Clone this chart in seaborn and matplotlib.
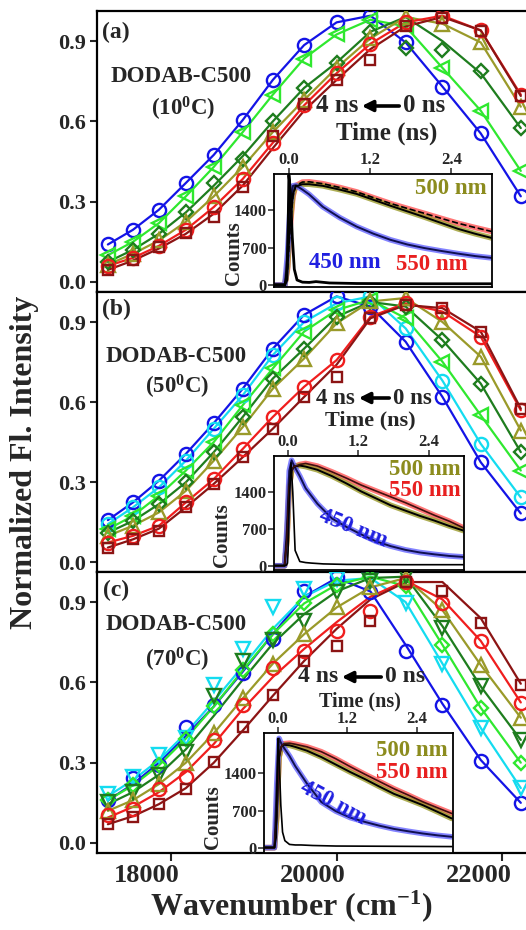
import matplotlib
matplotlib.use('Agg')
import matplotlib.pyplot as plt
import seaborn as sns
from matplotlib.transforms import ScaledTranslation

sns.set_theme(style='ticks')
plt.rcParams['font.family'] = ['Liberation Serif', 'DejaVu Serif']
plt.rcParams['font.weight'] = 'bold'
plt.rcParams['axes.labelweight'] = 'bold'
plt.rcParams['mathtext.fontset'] = 'custom'
plt.rcParams['mathtext.rm'] = 'Liberation Serif:bold'
plt.rcParams['mathtext.bf'] = 'Liberation Serif:bold'
plt.rcParams['mathtext.it'] = 'Liberation Serif:bold'

# spectra: 450..580 nm in 10 nm steps, as wavenumbers
wavenumber = [17241, 17544, 17857, 18182, 18519, 18868, 19231, 19608,
              20000, 20408, 20833, 21277, 21739, 22222]

# panel (a) 10 C
a_blue = [0.14, 0.195, 0.27, 0.37, 0.475, 0.605, 0.755, 0.885, 0.97, 0.995, 0.895, 0.73, 0.555, 0.32]
a_green = [0.10, 0.15, 0.22, 0.32, 0.43, 0.56, 0.70, 0.835, 0.925, 0.98, 0.955, 0.80, 0.64, 0.415]
a_dkgreen = [0.075, 0.12, 0.18, 0.26, 0.36, 0.47, 0.60, 0.725, 0.82, 0.935, 0.99, 0.90, 0.78, 0.575]
a_dkgreen_pts = [0.075, 0.12, 0.18, 0.26, 0.37, 0.46, 0.60, 0.725, 0.82, 0.935, 0.875, 0.865, 0.79, 0.575]
a_olive = [0.065, 0.105, 0.155, 0.225, 0.32, 0.43, 0.56, 0.68, 0.80, 0.91, 0.99, 0.965, 0.895, 0.655]
a_red = [0.06, 0.09, 0.135, 0.195, 0.28, 0.385, 0.52, 0.66, 0.78, 0.89, 0.97, 0.995, 0.94, 0.70]
a_dkred = [0.045, 0.08, 0.125, 0.18, 0.255, 0.36, 0.50, 0.64, 0.755, 0.87, 0.955, 0.99, 0.94, 0.695]
a_dkred_pts = [0.044, 0.081, 0.129, 0.184, 0.244, 0.356, 0.545, 0.665, 0.756, 0.831, 0.955, 0.9875, 0.9375, 0.694]

# panel (b) 50 C
b_blue = [0.157, 0.2235, 0.305, 0.4055, 0.521, 0.65, 0.80, 0.927, 0.996, 0.958, 0.826, 0.619, 0.374, 0.182]
b_cyan = [0.142, 0.205, 0.28, 0.38, 0.50, 0.625, 0.776, 0.90, 0.97, 0.996, 0.876, 0.68, 0.443, 0.242]
b_green = [0.123, 0.173, 0.249, 0.343, 0.45, 0.588, 0.726, 0.864, 0.945, 0.983, 0.914, 0.751, 0.55, 0.343]
b_dkgreen = [0.11, 0.154, 0.217, 0.299, 0.412, 0.544, 0.688, 0.80, 0.92, 0.975, 0.958, 0.832, 0.669, 0.412]
b_olive = [0.098, 0.136, 0.186, 0.267, 0.38, 0.506, 0.65, 0.763, 0.895, 0.977, 0.99, 0.90, 0.77, 0.493]
b_red = [0.073, 0.098, 0.136, 0.2235, 0.311, 0.424, 0.544, 0.657, 0.757, 0.92, 0.97, 0.939, 0.845, 0.569]
b_dkred = [0.054, 0.085, 0.125, 0.205, 0.293, 0.393, 0.50, 0.619, 0.74, 0.914, 0.964, 0.952, 0.864, 0.575]
b_dkred_pts = [0.054, 0.085, 0.117, 0.205, 0.293, 0.393, 0.50, 0.619, 0.694, 0.914, 0.964, 0.952, 0.864, 0.575]

# panel (c) 70 C
c_blue = [0.159, 0.22, 0.30, 0.40, 0.51, 0.64, 0.78, 0.92, 0.99, 0.94, 0.74, 0.52, 0.31, 0.15]
c_blue_pts = [0.159, 0.241, 0.293, 0.435, 0.514, 0.635, 0.761, 0.942, 0.992, 0.936, 0.717, 0.516, 0.308, 0.148]
c_cyan = [0.175, 0.235, 0.31, 0.41, 0.53, 0.66, 0.80, 0.92, 0.98, 0.99, 0.90, 0.67, 0.43, 0.205]
c_cyan_pts = [0.184, 0.247, 0.328, 0.391, 0.591, 0.723, 0.88, 0.95, 0.985, 0.98, 0.898, 0.667, 0.429, 0.204]
c_green = [0.16, 0.215, 0.29, 0.39, 0.51, 0.645, 0.78, 0.895, 0.965, 0.995, 0.96, 0.74, 0.505, 0.30]
c_dkgreen = [0.145, 0.19, 0.255, 0.35, 0.475, 0.61, 0.745, 0.855, 0.94, 0.99, 0.995, 0.81, 0.585, 0.385]
c_dkgreen_pts = [0.153, 0.19, 0.253, 0.341, 0.548, 0.68, 0.76, 0.83, 0.936, 0.98, 0.999, 0.805, 0.585, 0.386]
c_olive = [0.12, 0.16, 0.22, 0.30, 0.41, 0.54, 0.67, 0.78, 0.88, 0.955, 0.99, 0.87, 0.665, 0.468]
c_red = [0.095, 0.135, 0.19, 0.265, 0.37, 0.50, 0.62, 0.725, 0.825, 0.92, 0.98, 0.91, 0.755, 0.525]
c_red_pts = [0.103, 0.128, 0.203, 0.247, 0.385, 0.516, 0.654, 0.717, 0.792, 0.867, 0.974, 0.898, 0.754, 0.524]
c_dkred = [0.07, 0.10, 0.145, 0.205, 0.30, 0.42, 0.55, 0.68, 0.80, 0.91, 0.975, 0.975, 0.84, 0.595]
c_dkred_pts = [0.071, 0.0965, 0.147, 0.203, 0.303, 0.435, 0.554, 0.679, 0.736, 0.83, 0.975, 0.942, 0.823, 0.591]

# decay traces (insets)
t_decay = [-0.22, -0.06, -0.02, 0.02, 0.06, 0.1, 0.2, 0.3, 0.5, 0.75, 1.0,
           1.25, 1.5, 1.75, 2.0, 2.25, 2.5, 2.75, 3.0]
a_450 = [5, 5, 600, 1500, 1850, 1860, 1780, 1690, 1461, 1260, 1093, 960, 847, 760, 694, 640, 590, 545, 510]
a_500 = [5, 5, 350, 1200, 1700, 1840, 1880, 1880, 1850, 1780, 1700, 1590, 1480, 1375, 1270, 1160, 1050, 960, 880]
a_550 = [5, 5, 300, 1100, 1650, 1850, 1920, 1925, 1890, 1820, 1738, 1630, 1523, 1430, 1339, 1245, 1154, 1075, 1000]
b_450 = [10, 10, 700, 1800, 2000, 1900, 1700, 1470, 1180, 900, 740, 600, 470, 380, 310, 260, 225, 195, 176]
b_500 = [10, 10, 500, 1500, 1800, 1880, 1900, 1880, 1820, 1700, 1560, 1410, 1280, 1150, 1050, 950, 860, 760, 670]
b_550 = [10, 10, 500, 1500, 1800, 1880, 1920, 1940, 1890, 1780, 1660, 1530, 1420, 1310, 1200, 1080, 960, 850, 720]
c_450 = [10, 10, 1200, 2050, 1950, 1880, 1720, 1530, 1207, 860, 690, 570, 490, 420, 360, 315, 274, 240, 212]
c_500 = [10, 10, 600, 1700, 1900, 1930, 1920, 1890, 1820, 1700, 1560, 1420, 1290, 1150, 1015, 910, 803, 680, 554]
c_550 = [10, 10, 600, 1700, 1900, 1950, 1960, 1940, 1892, 1800, 1668, 1520, 1380, 1245, 1110, 990, 865, 755, 647]

t_irf = [-0.22, -0.06, -0.03, -0.01, 0.0, 0.02, 0.05, 0.08, 0.12, 0.2, 0.3, 0.4, 0.6, 1.0, 2.0, 3.0]
a_irf = [15, 15, 100, 1200, 2050, 1800, 900, 300, 100, 60, 55, 70, 45, 35, 30, 30]
b_irf = [15, 15, 20, 60, 300, 1200, 1950, 1400, 300, 90, 70, 60, 45, 35, 30, 30]
c_irf = [15, 15, 200, 1500, 2050, 1700, 800, 300, 140, 70, 60, 60, 50, 40, 35, 30]

BLUE, CYAN, GREEN = '#1414e6', '#14dcf0', '#2fe82f'
DKGREEN, OLIVE, RED, DKRED = '#1e7d1e', '#9a9a2a', '#f01e1e', '#8c1414'

panels = [
    [(a_blue, None, BLUE, 'o'), (a_green, None, GREEN, '<'),
     (a_dkgreen, a_dkgreen_pts, DKGREEN, 'D'), (a_olive, None, OLIVE, '^'),
     (a_red, None, RED, 'o'), (a_dkred, a_dkred_pts, DKRED, 's')],
    [(b_blue, None, BLUE, 'o'), (b_cyan, None, CYAN, 'o'), (b_green, None, GREEN, '<'),
     (b_dkgreen, None, DKGREEN, 'D'), (b_olive, None, OLIVE, '^'),
     (b_red, None, RED, 'o'), (b_dkred, b_dkred_pts, DKRED, 's')],
    [(c_blue, c_blue_pts, BLUE, 'o'), (c_cyan, c_cyan_pts, CYAN, 'v'), (c_green, None, GREEN, 'D'),
     (c_dkgreen, c_dkgreen_pts, DKGREEN, 'v'), (c_olive, None, OLIVE, '^'),
     (c_red, c_red_pts, RED, 'o'), (c_dkred, c_dkred_pts, DKRED, 's')],
]
decays = [(a_450, a_500, a_550, a_irf), (b_450, b_500, b_550, b_irf), (c_450, c_500, c_550, c_irf)]

W, H = 526, 930
fig = plt.figure(figsize=(W / 100, H / 100), dpi=100)


def fx(x):
    return x / W


def fy(y):
    return 1 - y / H


main_rows = [(11, 292), (292, 572), (572, 853)]
inset_boxes = [(274, 492, 174, 287, (-0.22, 3.0), (-30, 2070)),
               (274, 464, 456, 570, (-0.24, 3.0), (-70, 2080)),
               (264, 453, 733, 853, (-0.24, 3.02), (-90, 2150))]
temps = ['10', '50', '70']
letters = ['(a)', '(b)', '(c)']

# text layout (pixel positions)
lab_pos = [((102, 32), (181, 77), (183, 109)),
           ((102, 309), (176, 357), (177, 387)),
           ((103, 590), (176, 625), (177, 660))]
arrow_pos = [(358, 403, 106, 18), (355, 393, 398, 16.5), (338, 385, 677, 17)]
time_pos = [(387, 133, 18), (370, 420, 16), (360, 701, 14.5)]
nm_pos = [((451, 188, 0), (345, 263, 0), (432, 265, 0)),
          ((425, 469, 0), (353, 528, -22), (425, 490, 0)),
          ((412, 751, 0), (333, 803, -28), (412, 772, 0))]
counts_pos = [(234, 253), (222, 535), (213, 817)]

axes = []
for i, (top, bot) in enumerate(main_rows):
    ax = fig.add_axes([fx(97), fy(bot), fx(530 - 97), (bot - top) / H])
    axes.append(ax)
    for fit, pts, col, mk in panels[i]:
        sns.lineplot(x=wavenumber, y=fit, ax=ax, color=col, lw=1.6, zorder=2)
        ms = 7.5 if mk in ('s', 'D') else 9.5
        ax.plot(wavenumber, pts if pts is not None else fit, ls='none', marker=mk,
                ms=ms, mfc='none', mec=col, mew=1.7, zorder=3)
    ax.set_xlim(17110, 22333)
    ax.set_ylim(-0.0375, 1.0125)
    ax.set_yticks([0.0, 0.3, 0.6, 0.9])
    ax.set_yticklabels(['0.0', '0.3', '0.6', '0.9'])
    ax.set_xticks([18000, 20000, 22000])
    ax.tick_params(axis='y', direction='out', length=5, width=1.5, labelsize=16, pad=3)
    ax.tick_params(axis='x', direction='out', length=6, width=1.5, labelsize=19, pad=2)
    if i < 2:
        ax.tick_params(axis='x', bottom=False, labelbottom=False)
    for sp in ax.spines.values():
        sp.set_linewidth(1.6)
        sp.set_color('black')
    ax.set_xlabel('')
    ax.set_ylabel('')

    (lx, ly), (dx, dy), (tx, ty) = lab_pos[i]
    fig.text(fx(lx), fy(ly), letters[i], fontsize=17, ha='left', va='center')
    fig.text(fx(dx), fy(dy), 'DODAB-C500', fontsize=16.5, ha='center', va='center')
    fig.text(fx(tx), fy(ty), '(' + temps[i] + r'$^{\mathbf{0}}$C)', fontsize=16.5,
             ha='center', va='center')

    x4, x0, ya, fs_arrow = arrow_pos[i]
    fig.text(fx(x4), fy(ya), '4 ns', fontsize=fs_arrow, ha='right', va='center', zorder=6)
    fig.text(fx(x0), fy(ya), '0 ns', fontsize=fs_arrow, ha='left', va='center', zorder=6)
    fig.add_artist(matplotlib.patches.FancyArrowPatch(
        (fx(x0 - 1), fy(ya)), (fx(x4 + 1), fy(ya)), transform=fig.transFigure,
        arrowstyle='-|>', mutation_scale=16, lw=2.6, color='black', zorder=6))
    tx_, ty_, tfs = time_pos[i]
    fig.text(fx(tx_), fy(ty_), 'Time (ns)', fontsize=tfs, ha='center', va='center', zorder=6)

    # inset with decays
    l, r, t, b, xl, yl = inset_boxes[i]
    axi = fig.add_axes([fx(l), fy(b), (r - l) / W, (b - t) / H], zorder=5)
    d450, d500, d550, dirf = decays[i]
    sns.lineplot(x=t_decay, y=d550, ax=axi, color='#ff4a4a', lw=4, alpha=0.75)
    sns.lineplot(x=t_decay, y=d500, ax=axi, color='#9a9a2a', lw=4, alpha=0.8)
    sns.lineplot(x=t_decay, y=d450, ax=axi, color='#5a5aff', lw=4, alpha=0.75)
    sns.lineplot(x=t_decay, y=d450, ax=axi, color='#101050', lw=1.4)
    sns.lineplot(x=t_decay, y=d500, ax=axi, color='black', lw=1.4)
    if i == 0:
        sns.lineplot(x=t_decay, y=d550, ax=axi, color='black', lw=1.2, ls='--')
    else:
        sns.lineplot(x=t_decay, y=d550, ax=axi, color='#401010', lw=1.2)
    sns.lineplot(x=t_irf, y=dirf, ax=axi, color='black', lw=2.0 if i == 0 else 1.2)
    axi.set_xlim(*xl)
    axi.set_ylim(*yl)
    axi.set_xticks([0.0, 1.2, 2.4])
    axi.set_xticklabels(['0.0', '1.2', '2.4'])
    axi.set_yticks([0, 700, 1400])
    axi.set_yticklabels(['0', '700', '1400'])
    axi.tick_params(axis='x', top=True, bottom=False, labeltop=True, labelbottom=False,
                    direction='out', length=4, width=1.1, labelsize=12, pad=0.5)
    axi.tick_params(axis='y', direction='out', length=4, width=1.1, labelsize=12, pad=1)
    for sp in axi.spines.values():
        sp.set_linewidth(1.3)
        sp.set_color('black')
    axi.set_xlabel('')
    axi.set_ylabel('')
    cx, cy = counts_pos[i]
    fig.text(fx(cx), fy(cy), 'Counts', rotation=90, fontsize=15, ha='center', va='center', zorder=7)
    (p5, p4, p55) = nm_pos[i]
    fig.text(fx(p5[0]), fy(p5[1]), '500 nm', color='#8c8c1e', fontsize=16.5,
             ha='center', va='center', rotation=p5[2], zorder=7)
    fig.text(fx(p4[0]), fy(p4[1]), '450 nm', color='#2020e0', fontsize=16.5,
             ha='center', va='center', rotation=p4[2], zorder=7)
    fig.text(fx(p55[0]), fy(p55[1]), '550 nm', color='#e82020', fontsize=16.5,
             ha='center', va='center', rotation=p55[2], zorder=7)

# bottom tick labels sit left of their ticks in the original
for lab in axes[2].get_xticklabels():
    lab.set_transform(lab.get_transform() + ScaledTranslation(-0.24, 0, fig.dpi_scale_trans))

fig.text(0.0475, fy(462), 'Normalized Fl. Intensity', rotation=90, fontsize=23,
         ha='center', va='center')
fig.text(fx(291), fy(906), r'Wavenumber (cm$^{\mathbf{-1}}$)', fontsize=23,
         ha='center', va='center')

fig.savefig('out.png', dpi=100)
